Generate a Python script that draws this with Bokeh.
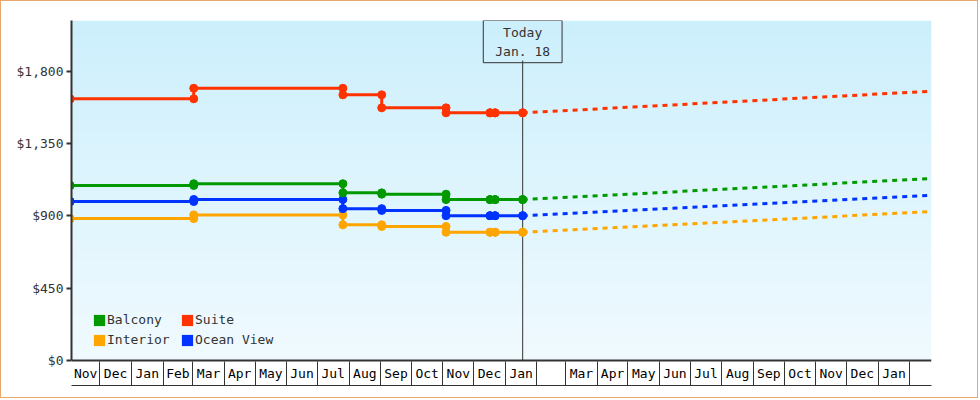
import numpy as np
import pandas as pd
from bokeh.plotting import figure
from bokeh.models import (Range1d, FixedTicker, NumeralTickFormatter, Legend, LegendItem,
                          Label, AllLabels, Span)
from bokeh.embed import file_html
from bokeh.resources import INLINE

# ---------------- data ----------------
obs_dates = ["2015-11-02", "2016-03-02", "2016-07-26", "2016-09-02",
             "2016-11-04", "2016-12-17", "2016-12-22", "2017-01-18"]
balcony = [1089, 1100, 1043, 1035, 1001, 1001, 1001, 1001]
suite = [1628, 1694, 1653, 1572, 1541, 1541, 1541, 1541]
interior = [883, 906, 844, 834, 798, 798, 798, 798]
ocean_view = [989, 1002, 945, 934, 901, 901, 901, 901]

forecast_dates = ["2017-01-18", "2018-02-18"]
balcony_forecast_end = 1131
suite_forecast_end = 1674
interior_forecast_end = 925
ocean_view_forecast_end = 1027

today = "2017-01-18"
today_text = "Today\nJan. 18"

y_ticks = [0, 450, 900, 1350, 1800]
month_starts = pd.date_range("2015-11-01", "2018-03-01", freq="MS")
month_labels = ["Nov", "Dec", "Jan", "Feb", "Mar", "Apr", "May", "Jun", "Jul", "Aug",
                "Sep", "Oct", "Nov", "Dec", "Jan", "", "Mar", "Apr", "May", "Jun",
                "Jul", "Aug", "Sep", "Oct", "Nov", "Dec", "Jan", ""]
legend_rows = [["Balcony", "Suite"], ["Interior", "Ocean View"]]

# ---------------- styles ----------------
FONT = "DejaVu Sans Mono"
TXT = "#333333"
COLORS = {"Balcony": "#009900", "Suite": "#FF3300", "Interior": "#FFA500", "Ocean View": "#0033FF"}

X_START = pd.Timestamp("2015-11-03 08:00")
X_END = pd.Timestamp("2018-02-22 05:00")
Y_BOTTOM, Y_TOP = -155.5, 2115.5
PX_PER_USD = 340.0 / Y_TOP


def ms(t):
    return int(pd.Timestamp(t).value // 10**6)


p = figure(width=978, height=398, x_axis_type="datetime",
           x_range=Range1d(X_START, X_END), y_range=Range1d(Y_BOTTOM, Y_TOP),
           output_backend="svg", toolbar_location=None,
           min_border_left=70, min_border_right=48, min_border_top=19, min_border_bottom=14)
p.styles = {"border": "1px solid #E8A86A"}
p.background_fill_color = "white"
p.border_fill_color = "white"
p.outline_line_color = None
p.grid.visible = False

# gradient plot background (style only)
n_bands = 68
edges = np.linspace(0, Y_TOP, n_bands + 1)
overlap = 1.0 / PX_PER_USD
c_top = np.array([204, 239, 252])
c_bot = np.array([240, 250, 254])
band_colors = []
for i in range(n_bands):
    t = (i + 0.5) / n_bands
    c = c_bot + (c_top - c_bot) * t
    band_colors.append("#%02x%02x%02x" % tuple(int(round(v)) for v in c))
tops = np.minimum(edges[1:] + overlap, Y_TOP)
p.quad(left=X_START, right=X_END, bottom=edges[:-1], top=tops,
       fill_color=band_colors, line_color=None)

# today marker line
p.segment(x0=[pd.Timestamp(today)], y0=[0], x1=[pd.Timestamp(today)],
          y1=[Y_TOP - 40 / PX_PER_USD], line_color=TXT, line_width=1)

dates = pd.to_datetime(obs_dates)
fdates = pd.to_datetime(forecast_dates)
series = [("Interior", interior, interior_forecast_end),
          ("Ocean View", ocean_view, ocean_view_forecast_end),
          ("Balcony", balcony, balcony_forecast_end),
          ("Suite", suite, suite_forecast_end)]
for name, vals, fend in series:
    col = COLORS[name]
    prev = [vals[0]] + vals[:-1]
    p.step(x=dates, y=vals, mode="after", line_color=col, line_width=3)
    p.line(x=fdates, y=[vals[-1], fend], line_color=col, line_width=3, line_dash="5 5")
    p.scatter(x=dates, y=prev, size=8, fill_color=col, line_color=col)
    p.scatter(x=dates, y=vals, size=8, fill_color=col, line_color=col)

# x-axis line at $0
p.add_layout(Span(location=0, dimension="width", line_color=TXT, line_width=2))

# y axis
ya = p.yaxis[0]
ya.ticker = FixedTicker(ticks=y_ticks)
ya.formatter = NumeralTickFormatter(format="$0,0")
ya.bounds = (0, Y_TOP)
ya.axis_line_color = TXT
ya.axis_line_width = 2
ya.major_tick_line_color = TXT
ya.major_tick_line_width = 2
ya.major_tick_out = 5
ya.major_tick_in = 0
ya.minor_tick_line_color = None
ya.major_label_standoff = 3
ya.major_label_text_font = FONT
ya.major_label_text_font_size = "13px"
ya.major_label_text_color = TXT

# x axis: month boxes
mids = []
labels = {}
for i in range(len(month_starts) - 1):
    a = max(month_starts[i], X_START)
    b = min(month_starts[i + 1], X_END)
    if b <= a:
        continue
    mid = ms(a) + (ms(b) - ms(a)) // 2
    mids.append(mid)
    labels[mid] = month_labels[i]
minor = [ms(m) for m in month_starts if X_START < m < X_END]
xa = p.xaxis[0]
xa.ticker = FixedTicker(ticks=mids, minor_ticks=minor)
xa.major_label_overrides = labels
xa.major_label_policy = AllLabels()
xa.axis_line_color = TXT
xa.axis_line_width = 1
xa.major_tick_line_color = None
xa.major_tick_out = 0
xa.major_tick_in = 0
xa.minor_tick_line_color = TXT
xa.minor_tick_line_width = 1
xa.minor_tick_in = 24
xa.minor_tick_out = 0
xa.major_label_standoff = -20
xa.major_label_text_font = FONT
xa.major_label_text_font_size = "13px"
xa.major_label_text_color = "#000000"

# today label box
p.add_layout(Label(x=pd.Timestamp(today), y=Y_TOP, text=today_text, anchor="top_center",
                   text_align="center", text_font=FONT, text_font_size="13px",
                   text_color=TXT, text_line_height=1.28,
                   padding=dict(left=12, right=12, top=4, bottom=4),
                   border_line_color=TXT, border_line_width=1,
                   background_fill_color=None))

# legends: one per item, laid out as 2 columns x 2 rows
leg_kw = dict(glyph_width=14, glyph_height=14, label_height=14, spacing=0, padding=0,
              margin=0, label_standoff=1, label_text_font=FONT, label_text_font_size="13px",
              label_text_color=TXT, background_fill_alpha=0, border_line_color=None)
col_x = [21, 109]
row_y = [58, 38]
for r, row in enumerate(legend_rows):
    for c, name in enumerate(row):
        rend = p.quad(left=[np.nan], right=[np.nan], bottom=[np.nan], top=[np.nan],
                      fill_color=COLORS[name], line_color=None)
        p.add_layout(Legend(items=[LegendItem(label=name, renderers=[rend])],
                            location=(col_x[c], row_y[r]), **leg_kw))

open("out.html", "w").write(file_html(p, INLINE))
